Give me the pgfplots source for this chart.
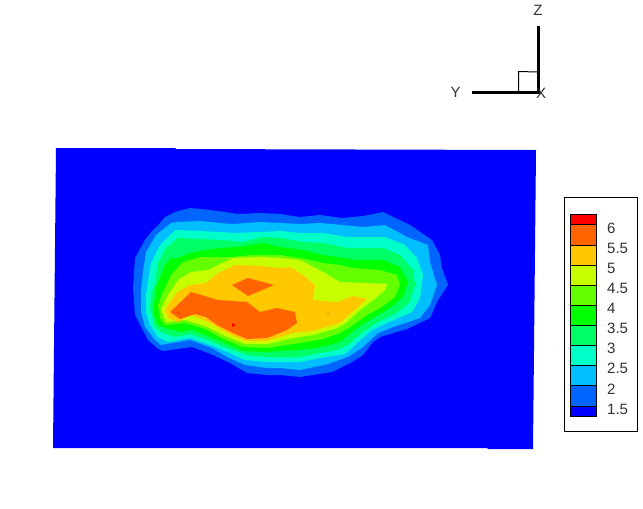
\documentclass[border=0pt]{standalone}
\usepackage{pgfplots}
\pgfplotsset{compat=1.18}
\usepackage{fontspec}
\setmainfont{Liberation Sans}
\definecolor{c1}{RGB}{0,0,255}
\definecolor{c2}{RGB}{0,100,255}
\definecolor{c3}{RGB}{0,190,255}
\definecolor{c4}{RGB}{0,255,200}
\definecolor{c5}{RGB}{0,255,100}
\definecolor{c6}{RGB}{0,255,0}
\definecolor{c7}{RGB}{100,255,0}
\definecolor{c8}{RGB}{200,255,0}
\definecolor{c9}{RGB}{255,200,0}
\definecolor{c10}{RGB}{255,100,0}
\definecolor{c11}{RGB}{255,0,0}
\begin{document}
\begin{tikzpicture}
\useasboundingbox (0,0) rectangle (643pt,509pt);
\begin{axis}[at={(0,0)},anchor=south west,x=1pt,y=1pt,xmin=0,xmax=643,ymin=0,ymax=509,y dir=reverse,hide axis,clip=true]
% domain
\addplot[fill=c1,draw=none] coordinates {(56,148)(175,148)(176,149)(536,150)(533,449)(488,449)(487,448)(53,448)} -- cycle;
% level 2
\addplot[fill=c2,draw=none] coordinates {(135,258)(145,240)(152,231)(160,223)(165,217)(175,212)(190,208)(210,210)(225,212)(238,214)(260,213)(280,214)(300,217)(320,215)(342,218)(363,216)(383,212)(410,225)(432,240)(440,255)(442,268)(448,285)(438,300)(430,318)(407,329)(380,337)(373,342)(363,355)(352,362)(332,372)(300,377)(280,375)(267,375)(247,373)(230,363)(213,355)(192,347)(163,351)(157,348)(148,340)(135,315)(133,288)} -- cycle;
% level 3
\addplot[fill=c3,draw=none] coordinates {(143,272)(146,252)(156,235)(171,223)(178,222)(200,221)(220,223)(233,224)(260,222)(280,223)(300,224)(320,223)(343,225)(363,227)(385,225)(407,237)(428,245)(430,262)(437,285)(430,305)(420,318)(393,327)(378,333)(363,347)(348,357)(328,364)(300,370)(280,368)(267,368)(245,365)(227,357)(212,348)(190,340)(161,345)(155,340)(145,327)(141,312)(141,290)} -- cycle;
% level 4
\addplot[fill=c4,draw=none] coordinates {(148,282)(151,263)(160,245)(175,230)(200,231)(220,232)(235,233)(260,232)(280,231)(300,233)(323,233)(347,237)(385,237)(405,245)(417,258)(423,275)(420,298)(412,312)(387,323)(372,330)(357,343)(345,354)(320,358)(300,362)(280,362)(267,362)(245,360)(227,352)(213,346)(190,338)(168,342)(158,337)(150,325)(146,312)(146,295)} -- cycle;
% level 5
\addplot[fill=c5,draw=none] coordinates {(155,283)(158,263)(166,248)(178,238)(200,239)(220,240)(243,242)(263,237)(280,238)(303,242)(323,243)(347,248)(383,248)(400,255)(413,270)(415,285)(410,302)(397,313)(378,322)(363,332)(348,345)(337,350)(320,353)(300,357)(280,357)(267,357)(247,355)(227,348)(210,341)(190,334)(175,337)(161,332)(155,327)(150,308)(151,295)} -- cycle;
% level 6
\addplot[fill=c6,draw=none] coordinates {(153,312)(156,288)(165,265)(171,258)(178,258)(190,253)(205,250)(220,248)(237,247)(263,243)(280,247)(303,250)(323,255)(357,260)(383,260)(400,267)(408,282)(403,297)(390,308)(373,318)(357,328)(340,342)(317,348)(297,350)(280,351)(267,352)(243,351)(227,344)(210,337)(192,330)(181,332)(165,328)(158,325)} -- cycle;
% level 7
\addplot[fill=c7,draw=none] coordinates {(158,305)(163,292)(171,275)(183,262)(201,257)(230,257)(253,255)(280,255)(300,258)(323,263)(340,265)(353,268)(380,270)(397,275)(400,285)(395,297)(382,307)(367,315)(350,327)(340,333)(323,339)(300,343)(280,346)(267,348)(243,347)(223,339)(205,329)(185,323)(165,325)(160,318)} -- cycle;
% level 8
\addplot[fill=c8,draw=none] coordinates {(161,310)(168,295)(178,280)(191,272)(208,270)(218,265)(233,258)(260,257)(280,258)(300,260)(323,272)(340,282)(387,284)(385,290)(373,300)(360,310)(347,322)(337,328)(313,335)(293,338)(280,341)(267,344)(245,344)(227,337)(205,326)(185,320)(166,322)} -- cycle;
% level 9
\addplot[fill=c9,draw=none] coordinates {(165,310)(176,293)(190,285)(206,283)(218,273)(235,265)(260,266)(280,268)(290,267)(303,275)(315,285)(313,300)(337,302)(353,296)(367,299)(357,308)(340,323)(313,331)(293,333)(280,337)(267,341)(245,341)(227,333)(208,322)(191,315)(178,322)(168,318)} -- cycle;
% level 10
\addplot[fill=c10,draw=none] coordinates {(170,312)(191,292)(218,300)(247,302)(260,312)(277,308)(295,312)(297,323)(287,330)(267,338)(247,339)(233,333)(217,325)(206,317)(195,314)(180,319)} -- cycle;
\addplot[fill=c10,draw=none] coordinates {(232,285)(248,278)(274,285)(248,296)} -- cycle;
% level 11
\addplot[fill=c11,draw=none] coordinates {(232,323)(236,325)(232,327)} -- cycle;
\addplot[fill=c11,draw=none] coordinates {(177.5,312.5)(179,313)(178,314)} -- cycle;
\addplot[fill=c10,draw=none] coordinates {(327,312.5)(329,313)(328,314)} -- cycle;
% legend
\addplot[draw=black,line width=1pt,fill=white] coordinates {(564.5,197.5)(637,197.5)(637,431)(564.5,431)} -- cycle;
\addplot[fill=c11,draw=black,line width=0.8pt] coordinates {(570,214)(596,214)(596,224.3)(570,224.3)} -- cycle;
\addplot[fill=c10,draw=black,line width=0.8pt] coordinates {(570,224.3)(596,224.3)(596,245.3)(570,245.3)} -- cycle;
\addplot[fill=c9,draw=black,line width=0.8pt] coordinates {(570,245.3)(596,245.3)(596,265.3)(570,265.3)} -- cycle;
\addplot[fill=c8,draw=black,line width=0.8pt] coordinates {(570,265.3)(596,265.3)(596,285.3)(570,285.3)} -- cycle;
\addplot[fill=c7,draw=black,line width=0.8pt] coordinates {(570,285.3)(596,285.3)(596,305.3)(570,305.3)} -- cycle;
\addplot[fill=c6,draw=black,line width=0.8pt] coordinates {(570,305.3)(596,305.3)(596,325.3)(570,325.3)} -- cycle;
\addplot[fill=c5,draw=black,line width=0.8pt] coordinates {(570,325.3)(596,325.3)(596,345.3)(570,345.3)} -- cycle;
\addplot[fill=c4,draw=black,line width=0.8pt] coordinates {(570,345.3)(596,345.3)(596,365.3)(570,365.3)} -- cycle;
\addplot[fill=c3,draw=black,line width=0.8pt] coordinates {(570,365.3)(596,365.3)(596,385.3)(570,385.3)} -- cycle;
\addplot[fill=c2,draw=black,line width=0.8pt] coordinates {(570,385.3)(596,385.3)(596,406)(570,406)} -- cycle;
\addplot[fill=c1,draw=black,line width=0.8pt] coordinates {(570,406)(596,406)(596,416.7)(570,416.7)} -- cycle;
\foreach \l/\y in {6/228,5.5/248,5/268,4.5/288,4/308,3.5/328,3/348,2.5/368,2/389,1.5/409}{
\edef\tmp{\noexpand\node[anchor=west,font=\noexpand\fontsize{15}{15}\noexpand\selectfont,text=black!80,inner sep=0pt] at (axis cs:607,\y) {\l};}\tmp
}
% triad
\addplot[black,line width=3pt] coordinates {(538.5,26)(538.5,93.5)};
\addplot[black,line width=3pt] coordinates {(472,92.5)(540,92.5)};
\addplot[black,line width=1pt] coordinates {(518.5,92)(518.5,71.5)(538,72)};
\node[font=\fontsize{15}{15}\selectfont,text=black!80,inner sep=0pt] at (axis cs:538,10) {Z};
\node[font=\fontsize{15}{15}\selectfont,text=black!80,inner sep=0pt] at (axis cs:455.5,92) {Y};
\node[font=\fontsize{15}{15}\selectfont,text=black!80,inner sep=0pt] at (axis cs:541,93) {X};
\end{axis}
\end{tikzpicture}
\end{document}
